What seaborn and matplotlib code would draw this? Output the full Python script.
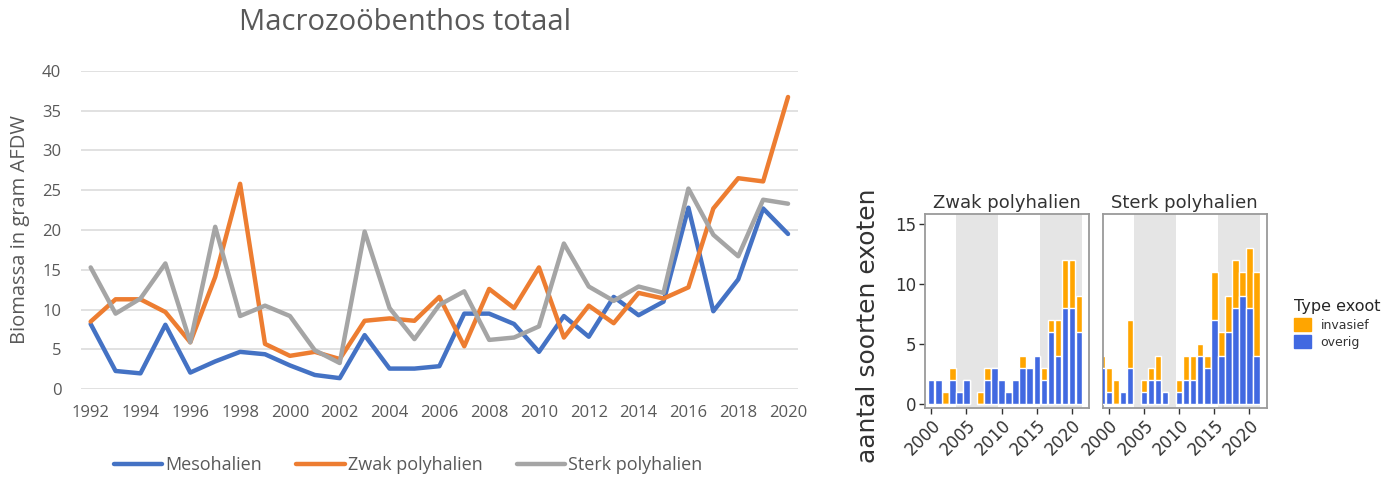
import pandas as pd
import matplotlib.pyplot as plt
import seaborn as sns
from matplotlib.patches import Patch
from matplotlib.lines import Line2D

sns.set_theme(style="white")
plt.rcParams['font.family'] = ['DejaVu Sans']

# --- DATA: biomassa macrozoöbenthos ---
jaren = list(range(1992, 2021))
meso = [8.2, 2.3, 2.0, 8.1, 2.1, 3.5, 4.7, 4.4, 3.0, 1.8, 1.4, 6.8, 2.6, 2.6, 2.9,
        9.5, 9.5, 8.2, 4.7, 9.2, 6.6, 11.6, 9.3, 11.0, 22.8, 9.8, 13.8, 22.7, 19.5]
zwak = [8.5, 11.3, 11.3, 9.7, 5.9, 14.1, 25.8, 5.7, 4.2, 4.7, 3.8, 8.6, 8.9, 8.6, 11.6,
        5.4, 12.6, 10.2, 15.3, 6.5, 10.5, 8.3, 12.1, 11.4, 12.8, 22.7, 26.5, 26.1, 36.7]
sterk = [15.3, 9.5, 11.4, 15.8, 5.9, 20.4, 9.2, 10.5, 9.2, 4.9, 3.3, 19.8, 10.2, 6.3, 10.6,
         12.3, 6.2, 6.5, 7.9, 18.3, 12.9, 11.1, 12.9, 12.1, 25.2, 19.4, 16.7, 23.8, 23.3]
zones = ["Mesohalien", "Zwak polyhalien", "Sterk polyhalien"]
line_colors = ["#4472C4", "#ED7D31", "#A5A5A5"]

# --- DATA: aantal soorten exoten ---
jaren_zwak = [2000, 2001, 2002, 2003, 2004, 2005, 2007, 2008, 2009, 2010, 2011,
              2012, 2013, 2014, 2015, 2016, 2017, 2018, 2019, 2020, 2021]
overig_zwak = [2, 2, 0, 2, 1, 2, 0, 2, 3, 2, 1, 2, 3, 3, 4, 2, 6, 4, 8, 8, 6]
invasief_zwak = [0, 0, 1, 1, 0, 0, 1, 1, 0, 0, 0, 0, 1, 0, 0, 1, 1, 3, 4, 4, 3]

jaren_sterk = [1999, 2000, 2001, 2002, 2003, 2005, 2006, 2007, 2008, 2010, 2011,
               2012, 2013, 2014, 2015, 2016, 2017, 2018, 2019, 2020, 2021]
overig_sterk = [3, 1, 0, 1, 3, 1, 2, 2, 1, 1, 2, 2, 4, 3, 7, 4, 6, 8, 9, 8, 4]
invasief_sterk = [1, 2, 2, 0, 4, 1, 1, 2, 0, 1, 2, 2, 1, 1, 4, 2, 3, 4, 2, 5, 7]

perioden = [(2003.5, 2009.5), (2015.5, 2021.5)]
c_inv = "#FFA500"
c_ov = "#4169E1"

W, H = 1400, 479
fig = plt.figure(figsize=(14, 4.79), dpi=100)

# --- LEFT: line chart (Excel style) ---
excel = ['Open Sans', 'DejaVu Sans']
txt = "#595959"
ax1 = fig.add_axes([80.7 / W, 1 - 389.3 / H, (798 - 80.7) / W, (389.3 - 70.7) / H])
df = pd.DataFrame({"jaar": jaren * 3,
                   "biomassa": meso + zwak + sterk,
                   "zone": [z for z in zones for _ in jaren]})
sns.lineplot(data=df, x="jaar", y="biomassa", hue="zone", hue_order=zones,
             palette=line_colors, linewidth=3.2, ax=ax1, legend=False)
ax1.set_xlim(1991.6, 2020.4)
ax1.set_ylim(0, 40)
ax1.set_yticks(range(0, 41, 5))
ax1.set_xticks(range(1992, 2021, 2))
ax1.grid(axis='y', color="#D9D9D9", linewidth=1.1)
ax1.grid(axis='x', visible=False)
for s in ax1.spines.values():
    s.set_visible(False)
ax1.tick_params(axis='y', length=0, pad=14, labelsize=12, labelcolor=txt)
ax1.tick_params(axis='x', length=0, pad=11, labelsize=12, labelcolor=txt)
for lab in ax1.get_xticklabels() + ax1.get_yticklabels():
    lab.set_family(excel)
ax1.set_xlabel("")
ax1.set_ylabel("")
fig.text(20 / W, 1 - 230 / H, "Biomassa in gram AFDW", rotation=90, ha='center', va='center',
         fontsize=14.5, color=txt, family=excel)
fig.text(405 / W, 1 - 22 / H, "Macrozoöbenthos totaal", ha='center', va='center',
         fontsize=21, color=txt, family=excel)
handles = [Line2D([0], [0], color=c, linewidth=3.2) for c in line_colors]
fig.legend(handles, zones, loc='center', bbox_to_anchor=(408 / W, 1 - 465 / H), ncol=3,
           frameon=False, handlelength=2.7, handletextpad=0.15, columnspacing=1.9,
           prop={'family': excel, 'size': 13}, labelcolor=txt)

# --- RIGHT: faceted stacked bars ---
panels = [
    ("Zwak polyhalien", jaren_zwak, overig_zwak, invasief_zwak, 925),
    ("Sterk polyhalien", jaren_sterk, overig_sterk, invasief_sterk, 1102.7),
]
for i, (titel, yrs, ov, inv, x0) in enumerate(panels):
    ax = fig.add_axes([x0 / W, 1 - 408 / H, 164 / W, 194 / H])
    for a, b in perioden:
        ax.axvspan(a, b, color="#E5E5E5", lw=0, zorder=0)
    totaal = [o + v for o, v in zip(ov, inv)]
    sns.barplot(x=yrs, y=totaal, color=c_inv, saturation=1, native_scale=True,
                width=0.9, ax=ax, zorder=2)
    sns.barplot(x=yrs, y=ov, color=c_ov, saturation=1, native_scale=True,
                width=0.9, ax=ax, zorder=3)
    ax.set_xlim(1999.1, 2022.45)
    ax.set_ylim(-0.35, 15.85)
    ax.set_xticks([2000, 2005, 2010, 2015, 2020])
    ax.set_yticks([0, 5, 10, 15])
    ax.set_xlabel("")
    ax.set_ylabel("")
    for s in ax.spines.values():
        s.set_visible(True)
        s.set_color("#9A9A9A")
        s.set_linewidth(1.3)
    ax.tick_params(axis='x', length=4, width=1, color="#333333", pad=2,
                   labelsize=12, labelcolor="#333333", bottom=True)
    plt.setp(ax.get_xticklabels(), rotation=45, ha='right', rotation_mode='anchor')
    if i == 0:
        ax.tick_params(axis='y', length=4, width=1, color="#333333", pad=2,
                       labelsize=12, labelcolor="#333333", left=True)
    else:
        ax.tick_params(axis='y', left=False, labelleft=False)
    ax.set_title(titel, fontsize=13, color="#333333", pad=4)

fig.text(868 / W, 1 - 326 / H, "aantal soorten exoten", rotation=90, ha='center',
         va='center', fontsize=18, color="#333333")
leg_handles = [Patch(color=c_inv), Patch(color=c_ov)]
fig.legend(leg_handles, ["invasief", "overig"], title="Type exoot", loc='upper left',
           bbox_to_anchor=(1283 / W, 1 - 288 / H), frameon=False, fontsize=9,
           title_fontsize=11.5, handlelength=1.3, handleheight=1.2, labelspacing=0.3,
           handletextpad=0.8, alignment='left', labelcolor="#333333")

fig.savefig("out.png", dpi=100)
